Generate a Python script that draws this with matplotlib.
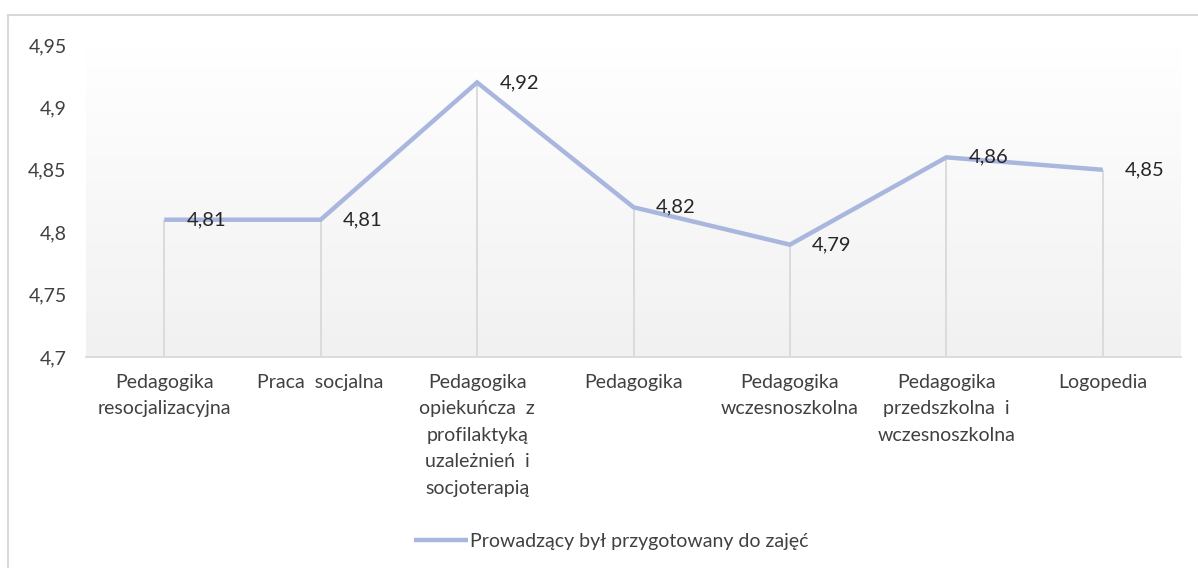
import matplotlib
matplotlib.use("Agg")
import matplotlib.pyplot as plt
import numpy as np
from matplotlib.patches import Rectangle
from matplotlib.colors import LinearSegmentedColormap

categories = [
    "Pedagogika\nresocjalizacyjna",
    "Praca  socjalna",
    "Pedagogika\nopiekuńcza  z\nprofilaktyką\nuzależnień  i\nsocjoterapią",
    "Pedagogika",
    "Pedagogika\nwczesnoszkolna",
    "Pedagogika\nprzedszkolna  i\nwczesnoszkolna",
    "Logopedia",
]
values = [4.81, 4.81, 4.92, 4.82, 4.79, 4.86, 4.85]
series_name = "Prowadzący był przygotowany do zajęć"
yticks = [4.7, 4.75, 4.8, 4.85, 4.9, 4.95]

plt.rcParams['font.family'] = ['Lato', 'DejaVu Sans']
W, H = 1198, 568
fig = plt.figure(figsize=(W / 100, H / 100), dpi=100)
fig.patch.set_facecolor("white")

# chart border
fig.add_artist(Rectangle((8 / W, -0.05), 1.1, 1 - 15 / H + 0.05, transform=fig.transFigure,
                         fill=False, edgecolor="#D9D9D9", linewidth=1.5))

ax = fig.add_axes([86 / W, 1 - 357 / H, (1181 - 86) / W, (357 - 45) / H])
n = len(categories)
x = np.arange(n)
ax.set_xlim(-0.5, n - 0.5)
ax.set_ylim(4.7, 4.95)

# gradient background
grad = np.linspace(0, 1, 256).reshape(-1, 1)
cmap = LinearSegmentedColormap.from_list("g", ["#F1F1F1", "#FFFFFF"])
ax.imshow(grad, aspect="auto", cmap=cmap, origin="lower",
          extent=[-0.5, n - 0.5, 4.7, 4.95], zorder=0)

line_color = "#A9B6DE"
# drop lines
ax.vlines(x, 4.7, values, colors="#D9D9D9", linewidth=1.3, zorder=1)
ax.plot(x, values, color=line_color, linewidth=3.2, solid_capstyle="butt",
        solid_joinstyle="miter", zorder=2, label=series_name)

for xi, v in zip(x, values):
    ax.annotate(f"{v:.2f}".replace(".", ","), (xi, v), xytext=(16, 0),
                textcoords="offset points", ha="left", va="center",
                fontsize=14.5, color="#262626", zorder=3)

ax.set_yticks(yticks)
ax.set_yticklabels([f"{t:g}".replace(".", ",") for t in yticks])
ax.set_xticks(x)
ax.set_xticklabels(categories, linespacing=1.68, va="top")
ax.tick_params(axis="both", length=0, labelsize=14, colors="#404040")
ax.tick_params(axis="y", pad=14)
ax.tick_params(axis="x", pad=12)
for s in ["top", "right", "left"]:
    ax.spines[s].set_visible(False)
ax.spines["bottom"].set_color("#D9D9D9")
ax.spines["bottom"].set_linewidth(1.3)

leg = fig.legend(loc="center", bbox_to_anchor=(611 / W, 1 - 541 / H), frameon=False,
                 fontsize=14, handlelength=2.8, handletextpad=0.1)
for t in leg.get_texts():
    t.set_color("#404040")

fig.savefig("out.png", dpi=100)
